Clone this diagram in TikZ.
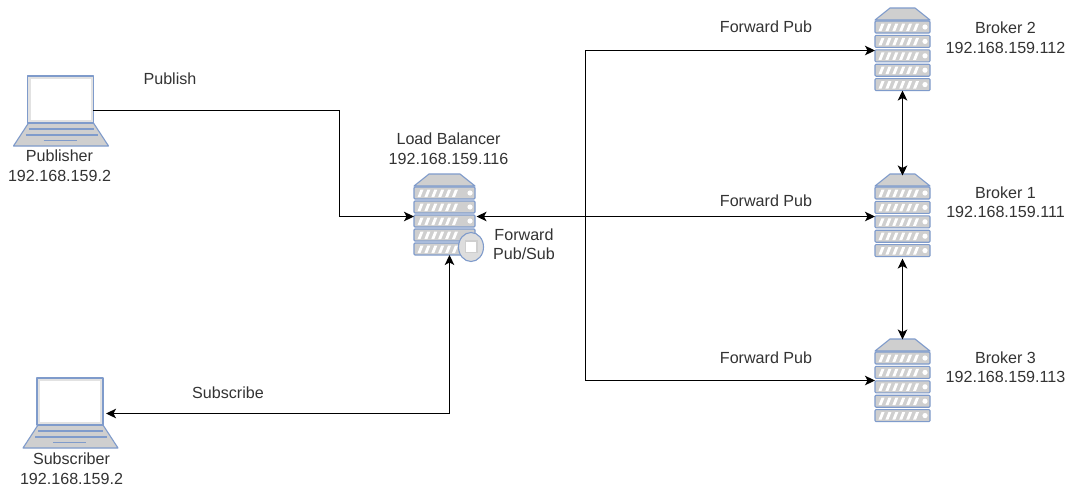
\documentclass[tikz,border=0pt]{standalone}
\usepackage{fontspec}
\setmainfont{Liberation Sans}
\usetikzlibrary{arrows.meta}
\definecolor{edgeblue}{HTML}{7F9BCB}
\definecolor{slabgray}{HTML}{CFCFCF}
\definecolor{textdark}{HTML}{333333}
\tikzset{
  x=1pt,y=-1pt,
  lbl/.style={font=\fontsize{16.1}{19.5}\selectfont,text=textdark,inner sep=0pt,align=center},
  srvbox/.style={inner sep=0pt,outer sep=0pt},
  lapbox/.style={minimum width=66pt,minimum height=70pt,inner sep=0pt,outer sep=0pt},
  wire/.style={draw=black,line width=1.2pt},
  tip/.style={-{Stealth[length=10pt,width=9.5pt,inset=2.5pt]}},
  tips/.style={{Stealth[length=10pt,width=9.5pt,inset=2.5pt]}-{Stealth[length=10pt,width=9.5pt,inset=2.5pt]}},
  art/.style={draw=edgeblue,line width=1.1pt,line join=round},
}
% #1 left x, #2 first-slab top y, #3 width, #4 slab pitch
\newcommand{\serverart}[4]{%
  \begin{scope}[shift={(#1,#2)}]
    \pgfmathsetmacro{\wd}{#3}
    \fill[art,fill=slabgray] (0,-1) -- (15,-13) -- (\wd-15,-13) -- (\wd,-1) -- cycle;
    \foreach \k in {0,1,2,3,4}{
      \pgfmathsetmacro{\ty}{\k*#4}
      \fill[art,fill=slabgray,rounded corners=1pt] (0,\ty) rectangle (\wd,\ty+12);
      \foreach \h in {0,1,2,3,4,5}{
        \fill[white] (3.5+\h*6.9,\ty+10) -- (6.5+\h*6.9,\ty+10) -- (9.5+\h*6.9,\ty+2.5) -- (6.5+\h*6.9,\ty+2.5) -- cycle;
      }
      \fill[white] (\wd-5,\ty+6) circle (2.6);
    }
  \end{scope}}
% #1 left x of base, #2 top y of screen
\newcommand{\laptopart}[2]{%
  \begin{scope}[shift={(#1,#2)}]
    \fill[art,fill=slabgray] (15,47) -- (80,47) -- (95,70) -- (0,70) -- cycle;
    \fill[art,fill=slabgray!60] (14,0) rectangle (80,47);
    \fill[white] (17,3) rectangle (77,44);
    \draw[edgeblue,line width=1.1pt] (15,53) -- (80,53);
    \draw[edgeblue,line width=1.1pt] (12,59) -- (84,59);
    \draw[edgeblue,line width=1.4pt] (30,64.5) -- (63,64.5);
  \end{scope}}
\begin{document}
\begin{tikzpicture}
\useasboundingbox (0,0) rectangle (1075,488);
\fill[white] (0,0) rectangle (1075,488);
% artwork
\laptopart{13.5}{76}
\laptopart{23}{378}
\serverart{414}{187}{61}{14}
\serverart{875}{21}{55}{14.4}
\serverart{875}{187}{55}{14.4}
\serverart{875}{352}{55}{14.4}
\fill[art,fill=slabgray!70] (471,247) ellipse (12.5 and 14.5);
\fill[white,draw=slabgray,line width=1.2pt] (465.5,241) rectangle (477,252.5);
% named boxes
\node[srvbox,minimum width=61pt,minimum height=77pt] (lb) at (444.5,216.5) {};
\node[srvbox,minimum width=55pt,minimum height=84pt] (b2) at (902.5,50.5) {};
\node[srvbox,minimum width=55pt,minimum height=84pt] (b1) at (902.5,216.5) {};
\node[srvbox,minimum width=55pt,minimum height=84pt] (b3) at (902.5,380.5) {};
\node[lapbox] (pub) at (60,110.5) {};
\node[lapbox] (sub) at (70,413.5) {};
\coordinate (junction) at (585.5,216.5);
% connectors
\draw[wire,tip] (pub.east) -| (339.5,216.5) -- (lb.west);
\draw[wire,tips] ([xshift=5pt]lb.south) |- ([xshift=3pt]sub.east);
\draw[wire,tips] ([xshift=1.5pt]lb.east) -- (b1.west);
\draw[wire,tip] (junction) |- (b2.west);
\draw[wire,tip] (junction) |- (b3.west);
\draw[wire,tips] ([yshift=2pt]b2.south) -- ([yshift=-1pt]b1.north);
\draw[wire,tips] (b1.south) -- ([yshift=-1pt]b3.north);
% labels
\node[lbl] (tpublish) at (170,79) {Publish};
\node[lbl] (tpublisher) at (59.5,165.5) {Publisher\\192.168.159.2};
\node[lbl] (tsubscribe) at (228,393) {Subscribe};
\node[lbl] (tsubscriber) at (71.5,468.5) {Subscriber\\192.168.159.2};
\node[lbl] (tlb) at (448.5,148.5) {Load Balancer\\192.168.159.116};
\node[lbl] (tfps) at (524,244) {Forward\\Pub/Sub};
\node[lbl] (tf2) at (766,27) {Forward Pub};
\node[lbl] (tf1) at (766,201) {Forward Pub};
\node[lbl] (tf3) at (766,358) {Forward Pub};
\node[lbl] (tb2) at (1005.5,37.5) {Broker 2\\192.168.159.112};
\node[lbl] (tb1) at (1005.5,202) {Broker 1\\192.168.159.111};
\node[lbl] (tb3) at (1005.5,367) {Broker 3\\192.168.159.113};
\end{tikzpicture}
\end{document}
